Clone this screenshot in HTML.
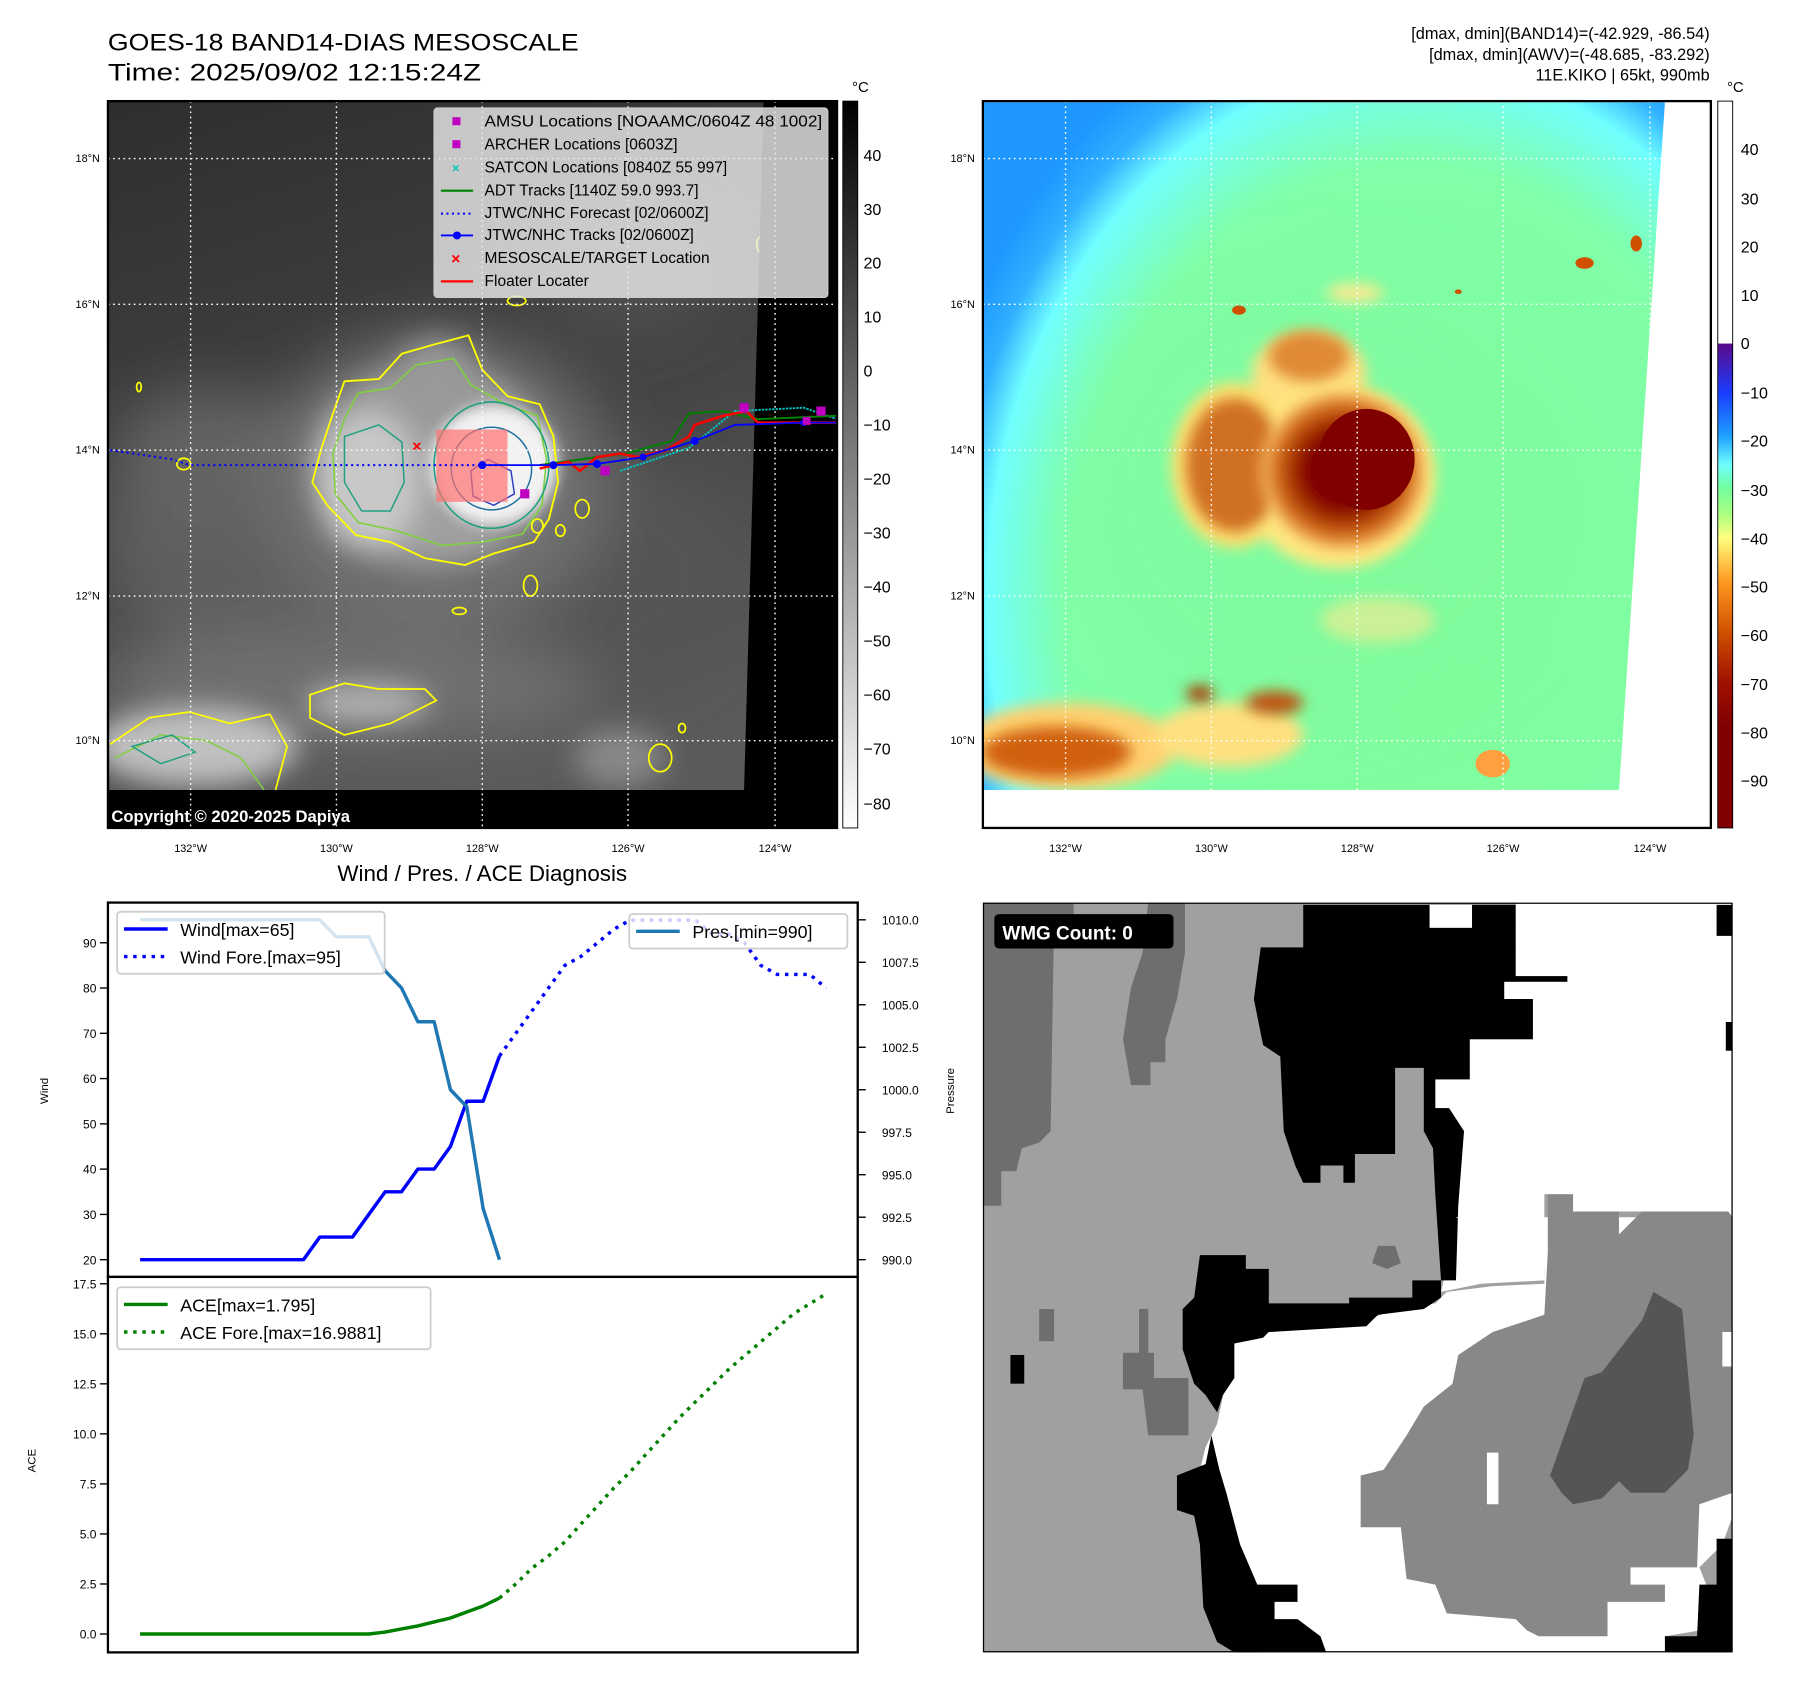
<!DOCTYPE html>
<html><head><meta charset="utf-8"><style>
html,body{margin:0;padding:0;background:#fff;}
svg{display:block;font-family:"Liberation Sans","DejaVu Sans",sans-serif;}
</style></head><body>
<svg id="fig" width="1801" height="1690" viewBox="0 0 1568.5 1471.7" xmlns="http://www.w3.org/2000/svg">
<defs>
<filter id="b6" x="-50%" y="-50%" width="200%" height="200%"><feGaussianBlur stdDeviation="6"/></filter>
<filter id="b12" x="-50%" y="-50%" width="200%" height="200%"><feGaussianBlur stdDeviation="12"/></filter>
<filter id="b25" x="-50%" y="-50%" width="200%" height="200%"><feGaussianBlur stdDeviation="25"/></filter>
<clipPath id="c1"><polygon points="95,89 665,89 648,688 95,688"/></clipPath>
<clipPath id="c2"><polygon points="857,89 1450,89 1410,688 857,688"/></clipPath>
<clipPath id="cw"><rect x="856" y="786" width="653" height="653"/></clipPath>
<linearGradient id="cb1g" x1="0" y1="0" x2="0" y2="1"><stop offset="0" stop-color="#000"/><stop offset="1" stop-color="#fff"/></linearGradient>
<linearGradient id="cb2g" x1="0" y1="89" x2="0" y2="721" gradientUnits="userSpaceOnUse">
<stop offset="0" stop-color="#fff"/><stop offset="0.332" stop-color="#fff"/>
<stop offset="0.333" stop-color="#5a0a8c"/><stop offset="0.40" stop-color="#1a3cff"/>
<stop offset="0.46" stop-color="#1ea0ff"/><stop offset="0.50" stop-color="#70ffff"/>
<stop offset="0.53" stop-color="#70ffa0"/><stop offset="0.57" stop-color="#b0ff80"/>
<stop offset="0.60" stop-color="#ffff80"/><stop offset="0.66" stop-color="#ff9a20"/>
<stop offset="0.73" stop-color="#d05000"/><stop offset="0.80" stop-color="#a01000"/>
<stop offset="0.86" stop-color="#800000"/><stop offset="1" stop-color="#800000"/></linearGradient>
<radialGradient id="m2bg" cx="1230" cy="520" r="500" gradientUnits="userSpaceOnUse" gradientTransform="translate(0,520) scale(1,1.25) translate(0,-520)"><stop offset="0" stop-color="#80fc98"/><stop offset="0.6" stop-color="#80ffa8"/><stop offset="0.68" stop-color="#78ffd8"/><stop offset="0.74" stop-color="#70ffff"/><stop offset="0.8" stop-color="#30b0ff"/><stop offset="0.86" stop-color="#1e98ff"/><stop offset="1" stop-color="#1e98ff"/></radialGradient>
<linearGradient id="m1bg" x1="0" y1="0" x2="0.3" y2="1"><stop offset="0" stop-color="#2e2e2e"/><stop offset="0.5" stop-color="#424242"/><stop offset="1" stop-color="#5a5a5a"/></linearGradient>
<radialGradient id="storm2"><stop offset="0" stop-color="#800000"/><stop offset="0.45" stop-color="#800000"/><stop offset="0.7" stop-color="#b84a08"/><stop offset="0.9" stop-color="#e88a30"/><stop offset="1" stop-color="#ffe080"/></radialGradient>
</defs>

<text x="94" y="44" font-size="21" textLength="410" lengthAdjust="spacingAndGlyphs">GOES-18 BAND14-DIAS MESOSCALE</text>
<text x="94" y="70" font-size="21" textLength="325" lengthAdjust="spacingAndGlyphs">Time: 2025/09/02 12:15:24Z</text>
<g font-size="14.2" text-anchor="end">
<text x="1489" y="34">[dmax, dmin](BAND14)=(-42.929, -86.54)</text>
<text x="1489" y="52">[dmax, dmin](AWV)=(-48.685, -83.292)</text>
<text x="1489" y="70">11E.KIKO | 65kt, 990mb</text>
</g>

<g>
<rect x="94" y="88" width="635" height="633" fill="#000"/>
<g clip-path="url(#c1)">
<rect x="94" y="88" width="635" height="633" fill="url(#m1bg)"/>
<g filter="url(#b25)">
<ellipse cx="250" cy="470" rx="160" ry="120" fill="#5e5e5e"/>
<ellipse cx="520" cy="500" rx="130" ry="100" fill="#555"/>
<ellipse cx="180" cy="400" rx="80" ry="60" fill="#646464"/>
<ellipse cx="300" cy="600" rx="220" ry="50" fill="#707070"/>
<ellipse cx="550" cy="230" rx="80" ry="60" fill="#505050"/>
<ellipse cx="380" cy="420" rx="150" ry="130" fill="#707070"/>
</g>
<g filter="url(#b12)">
<ellipse cx="375" cy="405" rx="105" ry="88" fill="#a0a0a0"/>
<ellipse cx="380" cy="335" rx="40" ry="40" fill="#999"/>
<ellipse cx="320" cy="420" rx="45" ry="60" fill="#c8c8c8"/>
<ellipse cx="170" cy="650" rx="90" ry="35" fill="#c0c0c0"/>
<ellipse cx="320" cy="612" rx="55" ry="18" fill="#b0b0b0"/>
<ellipse cx="540" cy="660" rx="40" ry="25" fill="#888"/>
</g>
<g filter="url(#b6)">
<ellipse cx="430" cy="405" rx="55" ry="52" fill="#f2f2f2"/>
</g>
<path d="M290,360 L300,332 L330,330 L350,308 L378,300 L408,292 L420,322 L442,345 L470,352 L482,380 L486,420 L478,452 L465,472 L430,482 L405,492 L370,486 L340,472 L310,466 L285,440 L272,420 L280,390 Z" fill="none" stroke="#ffff00" stroke-width="1.6"/>
<path d="M300,365 L312,342 L340,338 L362,318 L395,312 L410,335 L440,352 L468,362 L476,400 L472,440 L455,465 L420,472 L385,475 L345,462 L312,455 L292,430 L290,395 Z" fill="none" stroke="#80d040" stroke-width="1.4"/>
<ellipse cx="428" cy="405" rx="50" ry="55" fill="none" stroke="#20a080" stroke-width="1.4"/>
<path d="M300,380 L330,370 L350,385 L352,420 L340,445 L315,445 L300,420 Z" fill="none" stroke="#20a080" stroke-width="1.3"/>
<ellipse cx="428" cy="408" rx="35" ry="36" fill="none" stroke="#2070a0" stroke-width="1.3"/>
<path d="M410,410 L425,400 L445,410 L448,430 L430,440 L412,432 Z" fill="none" stroke="#3040c0" stroke-width="1.3"/>
<path d="M96,648 L130,625 L165,620 L200,630 L235,622 L250,650 L240,688 M270,605 L300,595 L330,600 L370,600 L380,610 L340,630 L300,640 L270,625 Z" fill="none" stroke="#ffff00" stroke-width="1.5"/>
<path d="M100,660 L140,640 L180,645 L210,660 L230,688" fill="none" stroke="#80d040" stroke-width="1.3"/>
<path d="M115,650 L150,640 L170,655 L140,665 Z" fill="none" stroke="#20a080" stroke-width="1.3"/>
<g fill="none" stroke="#ffff00" stroke-width="1.5">
<ellipse cx="160" cy="404" rx="6" ry="5"/><ellipse cx="468" cy="458" rx="5" ry="6"/><ellipse cx="462" cy="510" rx="6" ry="9"/>
<ellipse cx="507" cy="443" rx="6" ry="8"/><ellipse cx="400" cy="532" rx="6" ry="3"/><ellipse cx="575" cy="660" rx="10" ry="12"/>
<ellipse cx="663" cy="213" rx="4" ry="7"/><ellipse cx="450" cy="262" rx="8" ry="4"/><ellipse cx="488" cy="462" rx="4" ry="5"/>
<ellipse cx="594" cy="634" rx="3" ry="4"/><ellipse cx="121" cy="337" rx="2" ry="4"/>
</g>
<rect x="380" y="374" width="62" height="63" fill="#ff7070" fill-opacity="0.7"/>
</g>
<g stroke="#fff" stroke-width="1.2" stroke-dasharray="1.5 3">
<line x1="166" y1="88" x2="166" y2="721"/><line x1="293" y1="88" x2="293" y2="721"/><line x1="420" y1="88" x2="420" y2="721"/><line x1="547" y1="88" x2="547" y2="721"/><line x1="675" y1="88" x2="675" y2="721"/>
<line x1="94" y1="138" x2="729" y2="138"/><line x1="94" y1="265" x2="729" y2="265"/><line x1="94" y1="392" x2="729" y2="392"/><line x1="94" y1="519" x2="729" y2="519"/><line x1="94" y1="645" x2="729" y2="645"/>
</g>
<g>
<polyline points="96,392 150,400 165,405 440,405" fill="none" stroke="#0000ff" stroke-width="1.8" stroke-dasharray="1.8 3"/>
<polyline points="540,410 600,390 625,370 640,358 700,355 729,365" fill="none" stroke="#00c8c8" stroke-width="1.6" stroke-dasharray="2 1"/>
<polyline points="470,405 520,398 545,395 585,384 600,360 630,358 660,365 729,362" fill="none" stroke="#008000" stroke-width="1.8"/>
<polyline points="470,408 495,402 505,410 520,398 540,395 555,398 580,392 600,380 605,370 630,362 650,358 660,368 700,368 729,368" fill="none" stroke="#ff0000" stroke-width="2.2"/>
<polyline points="420,405 482,405 520,404 560,398 605,384 640,370 700,368 729,368" fill="none" stroke="#0000ff" stroke-width="1.6"/>
<g fill="#0000ff"><circle cx="420" cy="405" r="3.5"/><circle cx="482" cy="405" r="3.5"/><circle cx="520" cy="404" r="3.5"/><circle cx="560" cy="398" r="3"/><circle cx="605" cy="384" r="3.5"/><circle cx="700" cy="368" r="3"/></g>
<g fill="#c000c0"><rect x="453" y="426" width="8" height="8"/><rect x="523" y="406" width="8" height="8"/><rect x="644" y="351" width="8" height="8"/><rect x="711" y="354" width="8" height="8"/><rect x="699" y="363" width="7" height="7"/></g>
<text x="363" y="393" font-size="14" font-weight="bold" fill="#ff0000" text-anchor="middle">×</text>
</g>
<g>
<rect x="378" y="94" width="343" height="165" rx="3" fill="#e8e8e8" fill-opacity="0.82" stroke="#cccccc"/>
<rect x="394" y="102" width="7" height="7" fill="#c000c0"/>
<rect x="394" y="122" width="7" height="7" fill="#c000c0"/>
<text x="397" y="150" font-size="11" font-weight="bold" fill="#00c0c0" text-anchor="middle">×</text>
<line x1="384" y1="166" x2="412" y2="166" stroke="#008000" stroke-width="1.8"/>
<line x1="384" y1="186" x2="412" y2="186" stroke="#0000ff" stroke-width="1.8" stroke-dasharray="1.8 3"/>
<line x1="384" y1="205" x2="412" y2="205" stroke="#0000ff" stroke-width="1.6"/><circle cx="398" cy="205" r="3.5" fill="#0000ff"/>
<text x="397" y="230" font-size="14" font-weight="bold" fill="#ff0000" text-anchor="middle">×</text>
<line x1="384" y1="245" x2="412" y2="245" stroke="#ff0000" stroke-width="2"/>
<g font-size="13.5" fill="#000">
<text x="422" y="110" textLength="294" lengthAdjust="spacingAndGlyphs">AMSU Locations [NOAAMC/0604Z 48 1002]</text>
<text x="422" y="130">ARCHER Locations [0603Z]</text>
<text x="422" y="150">SATCON Locations [0840Z 55 997]</text>
<text x="422" y="170">ADT Tracks [1140Z 59.0 993.7]</text>
<text x="422" y="190">JTWC/NHC Forecast [02/0600Z]</text>
<text x="422" y="209">JTWC/NHC Tracks [02/0600Z]</text>
<text x="422" y="229">MESOSCALE/TARGET Location</text>
<text x="422" y="249">Floater Locater</text>
</g></g>
<text x="97" y="716" font-size="14.5" font-weight="bold" fill="#fff">Copyright © 2020-2025 Dapiya</text>
<rect x="94" y="88" width="635" height="633" fill="none" stroke="#000" stroke-width="2"/>
</g>
<g font-size="9.5" text-anchor="end">
<text x="87" y="141">18°N</text><text x="87" y="268">16°N</text><text x="87" y="395">14°N</text><text x="87" y="522">12°N</text><text x="87" y="648">10°N</text>
</g>
<g font-size="9.5" text-anchor="middle">
<text x="166" y="742">132°W</text><text x="293" y="742">130°W</text><text x="420" y="742">128°W</text><text x="547" y="742">126°W</text><text x="675" y="742">124°W</text>
</g>
<g>
<rect x="734" y="88" width="13" height="633" fill="url(#cb1g)" stroke="#000" stroke-width="0.8"/>
<text x="742" y="80" font-size="13">°C</text>
<g font-size="14">
<text x="752" y="140">40</text><text x="752" y="187">30</text><text x="752" y="234">20</text><text x="752" y="281">10</text><text x="752" y="328">0</text>
<text x="752" y="375">−10</text><text x="752" y="422">−20</text><text x="752" y="469">−30</text><text x="752" y="516">−40</text><text x="752" y="563">−50</text>
<text x="752" y="610">−60</text><text x="752" y="657">−70</text><text x="752" y="705">−80</text>
</g></g>

<g>
<rect x="856" y="88" width="634" height="633" fill="#fff"/>
<g clip-path="url(#c2)">
<rect x="856" y="88" width="634" height="633" fill="url(#m2bg)"/>
<g filter="url(#b25)">
<ellipse cx="1150" cy="430" rx="220" ry="200" fill="#80fca0" fill-opacity="0.5"/>
</g>
<g filter="url(#b6)">
<ellipse cx="1075" cy="405" rx="55" ry="72" fill="#ffe070"/>
<ellipse cx="1140" cy="325" rx="50" ry="35" fill="#ffe080"/>
<ellipse cx="1165" cy="415" rx="85" ry="80" fill="#ffe880"/>
<ellipse cx="930" cy="650" rx="95" ry="38" fill="#ffd070"/>
<ellipse cx="1070" cy="640" rx="65" ry="28" fill="#ffe080"/>
<ellipse cx="1180" cy="255" rx="25" ry="8" fill="#ffea90"/>
<ellipse cx="1200" cy="540" rx="50" ry="20" fill="#ffea90" fill-opacity="0.6"/>
</g>
<g filter="url(#b6)">
<ellipse cx="1075" cy="405" rx="42" ry="58" fill="#d07020"/>
<ellipse cx="1140" cy="310" rx="35" ry="22" fill="#e08a35"/>
<ellipse cx="920" cy="655" rx="65" ry="22" fill="#d06010"/>
<ellipse cx="1110" cy="612" rx="25" ry="10" fill="#c05010"/>
<ellipse cx="1045" cy="604" rx="12" ry="7" fill="#b03000"/>
</g>
<ellipse cx="1170" cy="410" rx="72" ry="70" fill="url(#storm2)" filter="url(#b6)"/>
<ellipse cx="1190" cy="400" rx="42" ry="44" fill="#800000"/>
<g fill="#d05000"><ellipse cx="1380" cy="229" rx="8" ry="5"/><ellipse cx="1270" cy="254" rx="3" ry="2"/><ellipse cx="1079" cy="270" rx="6" ry="4"/><ellipse cx="1300" cy="665" rx="15" ry="12" fill="#ffa040"/><ellipse cx="1425" cy="212" rx="5" ry="7"/></g>
</g>
<g stroke="#fff" stroke-width="1.2" stroke-dasharray="1.5 3">
<line x1="928" y1="88" x2="928" y2="721"/><line x1="1055" y1="88" x2="1055" y2="721"/><line x1="1182" y1="88" x2="1182" y2="721"/><line x1="1309" y1="88" x2="1309" y2="721"/><line x1="1437" y1="88" x2="1437" y2="721"/>
<line x1="856" y1="138" x2="1490" y2="138"/><line x1="856" y1="265" x2="1490" y2="265"/><line x1="856" y1="392" x2="1490" y2="392"/><line x1="856" y1="519" x2="1490" y2="519"/><line x1="856" y1="645" x2="1490" y2="645"/>
</g>
<rect x="856" y="88" width="634" height="633" fill="none" stroke="#000" stroke-width="2"/>
</g>
<g font-size="9.5" text-anchor="end">
<text x="849" y="141">18°N</text><text x="849" y="268">16°N</text><text x="849" y="395">14°N</text><text x="849" y="522">12°N</text><text x="849" y="648">10°N</text>
</g>
<g font-size="9.5" text-anchor="middle">
<text x="928" y="742">132°W</text><text x="1055" y="742">130°W</text><text x="1182" y="742">128°W</text><text x="1309" y="742">126°W</text><text x="1437" y="742">124°W</text>
</g>
<g>
<rect x="1496" y="88" width="13" height="633" fill="url(#cb2g)" stroke="#000" stroke-width="0.8"/>
<text x="1504" y="80" font-size="13">°C</text>
<g font-size="14">
<text x="1516" y="135">40</text><text x="1516" y="178">30</text><text x="1516" y="220">20</text><text x="1516" y="262">10</text><text x="1516" y="304">0</text>
<text x="1516" y="347">−10</text><text x="1516" y="389">−20</text><text x="1516" y="432">−30</text><text x="1516" y="474">−40</text><text x="1516" y="516">−50</text>
<text x="1516" y="558">−60</text><text x="1516" y="601">−70</text><text x="1516" y="643">−80</text><text x="1516" y="685">−90</text>
</g></g>

<text x="420" y="767" font-size="19.5" text-anchor="middle">Wind / Pres. / ACE Diagnosis</text>
<g id="windPanel"></g>
<g id="acePanel"></g>

<g clip-path="url(#cw)">
<rect x="856" y="786" width="653" height="653" fill="#a0a0a0"/>
<polygon fill="#6e6e6e" points="856,786 935,786 935,800 918,800 915,985 905,995 890,1000 885,1020 872,1020 872,1050 856,1050"/>
<polygon fill="#6e6e6e" points="1000,786 1032,786 1032,830 1025,870 1015,905 1015,925 1002,925 1002,945 985,945 978,905 985,860 995,830"/>
<polygon fill="#6e6e6e" points="1200,1085 1215,1085 1220,1100 1208,1105 1195,1100"/>
<polygon fill="#6e6e6e" points="905,1140 918,1140 918,1168 905,1168"/>
<polygon fill="#6e6e6e" points="978,1178 1005,1178 1005,1200 1035,1200 1035,1250 1000,1250 995,1210 978,1210"/>
<polygon fill="#6e6e6e" points="992,1140 1000,1140 1000,1180 992,1180"/>
<polygon fill="#fff" points="1320,786 1509,786 1509,1060 1440,1055 1410,1055 1400,1072 1370,1075 1365,1040 1345,1040 1345,1115 1290,1118 1255,1125 1268,1070 1275,985 1262,965 1250,965 1250,940 1280,940 1280,905 1335,905 1335,870 1310,870 1310,855 1365,855 1365,850 1320,850"/>
<polygon fill="#fff" points="1245,788 1282,788 1282,808 1245,808"/>
<polygon fill="#000" points="1098,825 1135,825 1135,788 1245,788 1245,808 1282,808 1282,788 1320,788 1320,850 1365,850 1365,855 1310,855 1310,870 1335,870 1335,905 1280,905 1280,940 1250,940 1250,965 1262,965 1275,985 1270,1050 1268,1115 1255,1115 1250,1040 1248,1000 1240,985 1240,930 1215,930 1215,1005 1180,1005 1180,1030 1170,1030 1170,1015 1150,1015 1150,1030 1135,1030 1128,1015 1118,985 1115,920 1100,910 1092,870"/>
<polygon fill="#fff" points="1268,1060 1345,1105 1345,1118 1300,1120 1260,1125 1250,1135 1215,1140 1190,1150 1170,1155 1105,1160 1075,1168 1060,1240 1050,1260 1040,1300 1050,1350 1070,1400 1100,1439 1450,1439 1450,1425 1480,1420 1490,1390 1480,1365 1500,1345 1509,1320 1509,1060"/>
<polygon fill="#000" points="1045,1093 1085,1093 1085,1105 1105,1105 1105,1135 1175,1135 1175,1130 1230,1130 1230,1115 1255,1115 1255,1130 1240,1140 1200,1145 1190,1155 1105,1160 1100,1165 1075,1170 1075,1200 1065,1215 1060,1230 1050,1215 1040,1205 1030,1175 1030,1140 1040,1130"/>
<polygon fill="#888" points="1348,1040 1370,1040 1370,1055 1410,1055 1410,1075 1430,1055 1505,1055 1509,1060 1509,1300 1480,1310 1478,1365 1420,1365 1420,1380 1450,1380 1450,1395 1400,1395 1400,1425 1340,1425 1330,1420 1320,1410 1260,1405 1250,1380 1225,1375 1220,1330 1185,1330 1185,1285 1205,1280 1225,1250 1240,1225 1265,1205 1270,1180 1300,1160 1345,1145 1348,1090"/>
<polygon fill="#fff" points="1295,1265 1305,1265 1305,1310 1295,1310"/>
<polygon fill="#fff" points="1500,1160 1509,1160 1509,1190 1500,1190"/>
<polygon fill="#555" points="1380,1200 1395,1195 1430,1150 1440,1125 1465,1140 1475,1250 1470,1280 1450,1300 1420,1300 1410,1290 1395,1305 1370,1310 1360,1300 1350,1285"/>
<polygon fill="#000" points="1055,1250 1050,1275 1025,1285 1025,1315 1040,1320 1045,1345 1048,1400 1060,1430 1075,1439 1155,1439 1150,1425 1130,1410 1110,1410 1110,1395 1130,1395 1130,1380 1095,1380 1080,1345 1068,1300 1062,1280"/>
<polygon fill="#000" points="1495,1340 1509,1340 1509,1439 1450,1439 1450,1425 1478,1425 1480,1380 1495,1380"/>
<rect x="1495" y="788" width="14" height="27" fill="#000"/>
<rect x="1503" y="890" width="6" height="25" fill="#000"/>
<rect x="880" y="1180" width="12" height="25" fill="#000"/>
<rect x="866" y="796" width="156" height="30" rx="4" fill="#000"/>
<text x="873" y="818" font-size="16.5" font-weight="bold" fill="#fff">WMG Count: 0</text>
<rect x="856" y="786" width="653" height="653" fill="none" stroke="#000" stroke-width="2.2"/>
</g>
</svg>
<script>
const windHist = [20,20,20,20,20,20,20,20,20,20,20,25,25,25,30,35,35,40,40,45,55,55,65];
const windFore = [65,70,75,80,85,87,90,93,95,95,95,95,95,92,92,90,85,83,83,83,80];
const presHist = [1010,1010,1010,1010,1010,1010,1010,1010,1010,1010,1010,1010,1009,1009,1009,1007,1006,1004,1004,1000,999,993,990];
const presForeStart = 30;
const presFore = [1010,1010,1010,1010,1010,1009,1009,1009];
const aceHist = [0,0,0,0,0,0,0,0,0,0,0,0,0,0,0,0.1,0.25,0.4,0.6,0.8,1.1,1.4,1.795];
const aceFore = [1.795,2.5,3.3,3.9,4.6,5.5,6.4,7.3,8.1,9.0,9.9,10.8,11.6,12.4,13.2,13.9,14.6,15.3,16.0,16.5,17.0];
const windTicks = [20,30,40,50,60,70,80,90];
const presTicks = [990,992.5,995,997.5,1000,1002.5,1005,1007.5,1010];
const aceTicks = [0,2.5,5,7.5,10,12.5,15,17.5];
const windLegend = ["Wind[max=65]","Wind Fore.[max=95]"];
const presLegend = ["Pres.[min=990]"];
const aceLegend = ["ACE[max=1.795]","ACE Fore.[max=16.9881]"];

const NS = "http://www.w3.org/2000/svg";
const xIdx = i => 122 + i * (313/22);
const yWind = w => 1097 - (w - 20) * 3.943;
const yPres = p => 1097 - (p - 990) * 14.8;
const yAce = a => 1423 - a * 17.43;

function mk(tag, attrs, parent){ const e=document.createElementNS(NS,tag); for(const k in attrs) e.setAttribute(k,attrs[k]); parent.appendChild(e); return e; }
function pts(arr, off, yf){ return arr.map((v,i)=>xIdx(i+off).toFixed(1)+","+yf(v).toFixed(1)).join(" "); }

const wp = document.getElementById("windPanel");
const ap = document.getElementById("acePanel");
mk("rect",{x:94,y:786,width:653,height:326,fill:"#fff"},wp);
mk("rect",{x:94,y:1112,width:653,height:327,fill:"#fff"},ap);

windTicks.forEach(t=>{
  const y=yWind(t);
  const l=mk("line",{x1:87,x2:94,y1:y,y2:y,stroke:"#000","stroke-width":1.2},wp);
  
  
  const tx=mk("text",{x:84,y:y+4,"font-size":10.5,"text-anchor":"end"},wp);
  tx.textContent=String(t);
  
  
});
presTicks.forEach(t=>{
  const y=yPres(t);
  const l=mk("line",{x1:747,x2:754,y1:y,y2:y,stroke:"#000","stroke-width":1.2},wp);
  
  
  const tx=mk("text",{x:768,y:y+4,"font-size":10.5},wp);
  tx.textContent=t.toFixed(1);
  
  
});
aceTicks.forEach(t=>{
  const y=yAce(t);
  const l=mk("line",{x1:87,x2:94,y1:y,y2:y,stroke:"#000","stroke-width":1.2},ap);
  
  
  const tx=mk("text",{x:84,y:y+4,"font-size":10.5,"text-anchor":"end"},ap);
  tx.textContent=t.toFixed(1);
  
  
});
let lab=mk("text",{x:0,y:0,"font-size":10,"text-anchor":"middle",transform:"translate(42,950) rotate(-90)"},wp);
lab.textContent="Wind";


lab=mk("text",{x:0,y:0,"font-size":10,"text-anchor":"middle",transform:"translate(831,950) rotate(-90)"},wp);
lab.textContent="Pressure";


lab=mk("text",{x:0,y:0,"font-size":10,"text-anchor":"middle",transform:"translate(31,1272) rotate(-90)"},ap);
lab.textContent="ACE";



let s;
s=mk("polyline",{points:pts(presFore,presForeStart,yPres),fill:"none",stroke:"#1f77b4","stroke-opacity":0.3,"stroke-width":3,"stroke-dasharray":"3 5"},wp);


s=mk("polyline",{points:pts(windHist,0,yWind),fill:"none",stroke:"#0000ff","stroke-width":3,"stroke-linejoin":"round"},wp);


s=mk("polyline",{points:pts(windFore,windHist.length-1,yWind),fill:"none",stroke:"#0000ff","stroke-width":3,"stroke-dasharray":"3 5"},wp);


s=mk("polyline",{points:pts(presHist,0,yPres),fill:"none",stroke:"#1f77b4","stroke-width":3,"stroke-linejoin":"round"},wp);


s=mk("polyline",{points:pts(aceHist,0,yAce),fill:"none",stroke:"#008000","stroke-width":3,"stroke-linejoin":"round"},ap);


s=mk("polyline",{points:pts(aceFore,aceHist.length-1,yAce),fill:"none",stroke:"#008000","stroke-width":3,"stroke-dasharray":"3 5"},ap);



function legend(parent,x,y,w,items,name){
  const g=mk("g",{},parent);
  
  
  mk("rect",{x:x,y:y,width:w,height:items.length*24+6,rx:3,fill:"#fff","fill-opacity":0.8,stroke:"#cccccc","stroke-width":1.5},g);
  items.forEach((it,i)=>{
    const yy=y+15+i*24;
    const ln=mk("line",{x1:x+6,x2:x+44,y1:yy,y2:yy,stroke:it.c,"stroke-width":3},g);
    if(it.d) ln.setAttribute("stroke-dasharray","3 5");
    const t=mk("text",{x:x+55,y:yy+6,"font-size":15.5},g);
    t.textContent=it.t;
  });
}
legend(wp,102,794,233,[{c:"#0000ff",t:windLegend[0]},{c:"#0000ff",d:1,t:windLegend[1]}],"wind-legend");
legend(wp,548,796,190,[{c:"#1f77b4",t:presLegend[0]}],"pressure-legend");
legend(ap,102,1121,273,[{c:"#008000",t:aceLegend[0]},{c:"#008000",d:1,t:aceLegend[1]}],"ace-legend");

mk("rect",{x:94,y:786,width:653,height:326,fill:"none",stroke:"#000","stroke-width":2},wp);
mk("rect",{x:94,y:1112,width:653,height:327,fill:"none",stroke:"#000","stroke-width":2},ap);
</script>
</body></html>
